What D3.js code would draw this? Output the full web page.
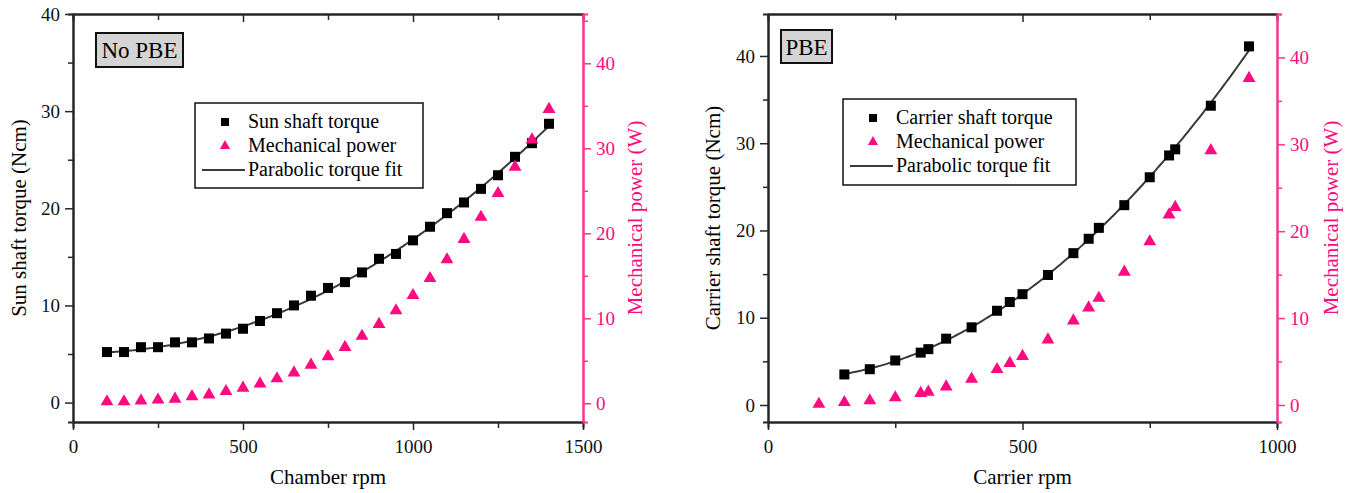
<!DOCTYPE html>
<html>
<head>
<meta charset="utf-8">
<script src="https://cdn.jsdelivr.net/npm/d3@7"></script>
<style>
	body { margin: 0; background: #fff; }
	text { font-family: "Liberation Serif", "DejaVu Serif", serif; }
</style>
</head>
<body>
<script>
// No PBE panel: chamber rpm vs sun shaft torque / power
var noPbeRpm = [100, 150, 200, 250, 300, 350, 400, 450, 500, 550, 600, 650, 700, 750,
	800, 850, 900, 950, 1000, 1050, 1100, 1150, 1200, 1250, 1300, 1350, 1400]
var noPbeTorque = [5.2, 5.2, 5.7, 5.7, 6.2, 6.2, 6.6, 7.1, 7.6, 8.4, 9.2, 10.0, 11.0, 11.8,
	12.4, 13.4, 14.8, 15.3, 16.7, 18.1, 19.5, 20.6, 22.0, 23.4, 25.3, 26.7, 28.7]
var noPbePower = [0.2, 0.2, 0.3, 0.4, 0.5, 0.8, 1.0, 1.4, 1.8, 2.3, 2.9, 3.6, 4.5, 5.5,
	6.6, 7.9, 9.3, 10.9, 12.7, 14.7, 16.9, 19.3, 21.9, 24.7, 27.8, 31.0, 34.6]

// PBE panel: carrier rpm vs carrier shaft torque / power
var pbeTorqueRpm = [150, 200, 250, 300, 315, 350, 400, 450, 475, 500, 550, 600, 630, 650,
	700, 750, 788, 800, 870, 945]
var pbeTorque = [3.5, 4.1, 5.1, 6.0, 6.4, 7.6, 8.9, 10.8, 11.8, 12.7, 14.9, 17.4, 19.05, 20.3,
	22.9, 26.1, 28.6, 29.3, 34.3, 41.1]
var pbePowerRpm = [100, 150, 200, 250, 300, 315, 350, 400, 450, 475, 500, 550, 600, 630, 650,
	700, 750, 788, 800, 870, 945]
var pbePower = [0.1, 0.3, 0.5, 0.85, 1.35, 1.5, 2.1, 3.0, 4.1, 4.8, 5.6, 7.5, 9.7, 11.2, 12.3,
	15.3, 18.8, 21.9, 22.75, 29.3, 37.6]

var pink = "#ff0a80"
var pinkAxis = "#f2398c"
var ink = "#262626"

var w = 1351
var h = 493

var svg = d3.select("body")
	.append("svg")
	.attr("width", w)
	.attr("height", h)

var panels = [
	{
		label: "No PBE", labelBox: [96, 33, 87, 34],
		x: [73, 583], xDomain: [0, 1500], xMajor: [0, 500, 1000, 1500], xMinor: [250, 750, 1250],
		top: 14, bottom: 422,
		yL: [-2, 40], yLMajor: [0, 10, 20, 30, 40], yLMinor: [5, 15, 25, 35],
		yR: [-2.2, 45.8], yRMajor: [0, 10, 20, 30, 40], yRMinor: [5, 15, 25, 35, 45],
		torqueX: noPbeRpm, torque: noPbeTorque, powerX: noPbeRpm, power: noPbePower,
		xTitle: "Chamber rpm", yTitle: "Sun shaft torque (Ncm)", yTitleX: 26, y2TitleX: 642,
		legend: [195, 103, 228, 85], legendNames: ["Sun shaft torque", "Mechanical power", "Parabolic torque fit"]
	},
	{
		label: "PBE", labelBox: [781, 30, 51, 33],
		x: [768, 1277], xDomain: [0, 1000], xMajor: [0, 500, 1000], xMinor: [250, 750],
		top: 14, bottom: 422,
		yL: [-1.95, 44.81], yLMajor: [0, 10, 20, 30, 40], yLMinor: [5, 15, 25, 35],
		yR: [-1.96, 45.0], yRMajor: [0, 10, 20, 30, 40], yRMinor: [5, 15, 25, 35, 45],
		torqueX: pbeTorqueRpm, torque: pbeTorque, powerX: pbePowerRpm, power: pbePower,
		xTitle: "Carrier rpm", yTitle: "Carrier shaft torque (Ncm)", yTitleX: 720, y2TitleX: 1338,
		legend: [843, 99, 233, 86], legendNames: ["Carrier shaft torque", "Mechanical power", "Parabolic torque fit"]
	}
]

// least-squares parabola through the torque points
function quadFit(xs, ys) {
	var s = [0, 0, 0, 0, 0], t = [0, 0, 0]
	xs.forEach((x, i) => {
		var p = 1
		for (var k = 0; k < 5; k++) { s[k] += p; if (k < 3) t[k] += p * ys[i]; p *= x }
	})
	var m = [[s[0], s[1], s[2], t[0]], [s[1], s[2], s[3], t[1]], [s[2], s[3], s[4], t[2]]]
	for (var i = 0; i < 3; i++) {
		for (var j = i + 1; j < 3; j++) {
			var f = m[j][i] / m[i][i]
			for (var k = i; k < 4; k++) m[j][k] -= f * m[i][k]
		}
	}
	var c = [0, 0, 0]
	for (var i = 2; i >= 0; i--) {
		var v = m[i][3]
		for (var k = i + 1; k < 3; k++) v -= m[i][k] * c[k]
		c[i] = v / m[i][i]
	}
	return (x) => c[0] + c[1] * x + c[2] * x * x
}

panels.forEach(drawPanel)

function drawPanel(p) {
	var xScale = d3.scaleLinear().domain(p.xDomain).range(p.x)
	var yLeft = d3.scaleLinear().domain(p.yL).range([p.bottom, p.top])
	var yRight = d3.scaleLinear().domain(p.yR).range([p.bottom, p.top])
	var fmt = d3.format("d")

	var g = svg.append("g")

	// bottom axis
	var bottomAxis = g.append("g").attr("transform", "translate(0," + p.bottom + ")")
	bottomAxis.call(d3.axisBottom(xScale).tickValues(p.xMajor).tickFormat(fmt).tickSize(8).tickSizeOuter(0).tickPadding(10))
	bottomAxis.append("g").call(d3.axisBottom(xScale).tickValues(p.xMinor).tickSize(6).tickFormat(""))
	styleAxis(bottomAxis, ink)

	// top axis (inward ticks, no labels)
	var topAxis = g.append("g").attr("transform", "translate(0," + p.top + ")")
	topAxis.call(d3.axisBottom(xScale).tickValues(p.xMajor).tickSize(8).tickSizeOuter(0).tickFormat(""))
	topAxis.append("g").call(d3.axisBottom(xScale).tickValues(p.xMinor).tickSize(6).tickFormat(""))
	styleAxis(topAxis, ink)

	// left axis
	var leftAxis = g.append("g").attr("transform", "translate(" + p.x[0] + ",0)")
	leftAxis.call(d3.axisLeft(yLeft).tickValues(p.yLMajor).tickFormat(fmt).tickSize(8).tickSizeOuter(0).tickPadding(5))
	leftAxis.append("g").call(d3.axisLeft(yLeft).tickValues(p.yLMinor).tickSize(5).tickFormat(""))
	styleAxis(leftAxis, ink)

	// right axis (power)
	var rightAxis = g.append("g").attr("transform", "translate(" + p.x[1] + ",0)")
	rightAxis.call(d3.axisRight(yRight).tickValues(p.yRMajor).tickFormat(fmt).tickSize(8).tickSizeOuter(0).tickPadding(5))
	rightAxis.append("g").call(d3.axisRight(yRight).tickValues(p.yRMinor).tickSize(5).tickFormat(""))
	styleAxis(rightAxis, pinkAxis)
	rightAxis.selectAll("text").attr("fill", pink)

	// axis titles
	g.append("text")
		.attr("x", (p.x[0] + p.x[1]) / 2)
		.attr("y", 484)
		.attr("text-anchor", "middle")
		.style("font-size", "21px")
		.text(p.xTitle)

	g.append("text")
		.attr("transform", "translate(" + p.yTitleX + "," + (p.top + p.bottom) / 2 + ") rotate(-90)")
		.attr("text-anchor", "middle")
		.style("font-size", "21px")
		.text(p.yTitle)

	g.append("text")
		.attr("transform", "translate(" + p.y2TitleX + "," + (p.top + p.bottom) / 2 + ") rotate(-90)")
		.attr("text-anchor", "middle")
		.attr("fill", pink)
		.style("font-size", "21px")
		.text("Mechanical power (W)")

	// fit curve
	var fit = quadFit(p.torqueX, p.torque)
	var xs = d3.range(p.torqueX[0], p.torqueX[p.torqueX.length - 1] + 1, 5)
	g.append("path")
		.datum(xs)
		.attr("fill", "none")
		.attr("stroke", "#3a3a3a")
		.attr("stroke-width", 2)
		.attr("d", d3.line().x((d) => xScale(d)).y((d) => yLeft(fit(d))))

	// torque squares
	g.selectAll(".sq")
		.data(p.torque)
		.enter()
		.append("rect")
		.attr("x", (d, i) => xScale(p.torqueX[i]) - 5)
		.attr("y", (d) => yLeft(d) - 5)
		.attr("width", 10)
		.attr("height", 10)
		.attr("fill", "#000")

	// power triangles
	g.selectAll(".tri")
		.data(p.power)
		.enter()
		.append("path")
		.attr("transform", (d, i) => "translate(" + xScale(p.powerX[i]) + "," + yRight(d) + ")")
		.attr("d", d3.symbol(d3.symbolTriangle, 72))
		.attr("fill", pink)

	// panel label
	g.append("rect")
		.attr("x", p.labelBox[0])
		.attr("y", p.labelBox[1])
		.attr("width", p.labelBox[2])
		.attr("height", p.labelBox[3])
		.attr("fill", "#d4d4d4")
		.attr("stroke", "#111")
		.attr("stroke-width", 2)
	g.append("text")
		.attr("x", p.labelBox[0] + p.labelBox[2] / 2)
		.attr("y", p.labelBox[1] + p.labelBox[3] / 2 + 8)
		.attr("text-anchor", "middle")
		.style("font-size", "23px")
		.text(p.label)

	// legend
	var L = p.legend
	var legend = g.append("g")
	legend.append("rect")
		.attr("x", L[0]).attr("y", L[1]).attr("width", L[2]).attr("height", L[3])
		.attr("fill", "#fff").attr("stroke", "#111").attr("stroke-width", 1.5)
	var rowY = (i) => L[1] + 19 + i * 24
	var mx = L[0] + 30
	legend.append("rect")
		.attr("x", mx - 4).attr("y", rowY(0) - 4).attr("width", 8).attr("height", 8).attr("fill", "#000")
	legend.append("path")
		.attr("transform", "translate(" + mx + "," + rowY(1) + ")")
		.attr("d", d3.symbol(d3.symbolTriangle, 45))
		.attr("fill", pink)
	legend.append("line")
		.attr("x1", L[0] + 7).attr("x2", L[0] + 50)
		.attr("y1", rowY(2)).attr("y2", rowY(2))
		.attr("stroke", "#3a3a3a").attr("stroke-width", 2)
	legend.selectAll(".lt")
		.data(p.legendNames)
		.enter()
		.append("text")
		.attr("x", L[0] + 53)
		.attr("y", (d, i) => rowY(i) + 6)
		.style("font-size", "20px")
		.text((d) => d)
}

function styleAxis(sel, color) {
	sel.selectAll("path.domain").attr("stroke", color).attr("stroke-width", 2)
	sel.selectAll("line").attr("stroke", color).attr("stroke-width", 1.5)
	sel.selectAll("text")
		.attr("fill", "#111")
		.style("font-size", "19px")
		.style("font-family", "'Liberation Serif', serif")
}
</script>
</body>
</html>
